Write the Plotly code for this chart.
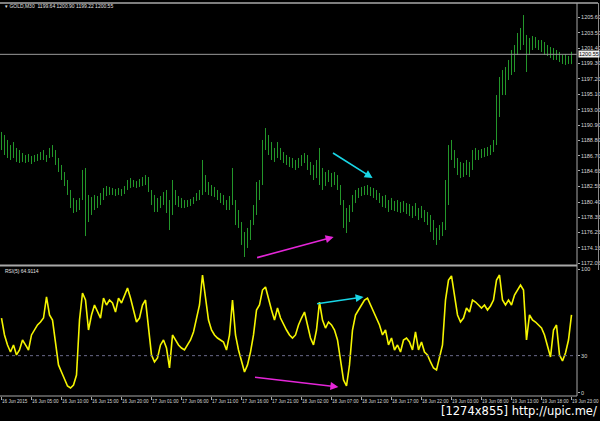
import plotly.graph_objects as go

# ---------------- data ----------------
bar_index = list(range(191))

high = [1189.96, 1189.55, 1188.87, 1188.18, 1188.59, 1187.78, 1187.50, 1187.09, 1186.82, 1186.96,
        1186.68, 1186.82, 1186.96, 1187.23, 1187.50, 1186.82, 1187.78, 1188.18, 1187.50, 1186.41,
        1185.46, 1184.50, 1183.41, 1182.05, 1180.96, 1180.68, 1180.96, 1184.78, 1185.05, 1181.37,
        1181.09, 1181.37, 1181.23, 1181.64, 1182.32, 1182.59, 1182.46, 1182.32, 1182.18, 1182.32,
        1182.18, 1182.59, 1183.41, 1183.68, 1183.41, 1183.27, 1183.55, 1183.82, 1184.09, 1183.82,
        1182.05, 1181.37, 1180.96, 1181.23, 1181.77, 1182.05, 1180.68, 1183.41, 1182.05, 1181.23,
        1180.96, 1180.68, 1180.68, 1180.82, 1181.09, 1181.64, 1182.05, 1186.14, 1184.09, 1183.14,
        1182.73, 1182.46, 1182.05, 1181.64, 1181.37, 1180.68, 1181.23, 1185.05, 1180.68, 1179.32,
        1177.68, 1176.32, 1176.87, 1177.96, 1180.00, 1183.14, 1183.41, 1188.87, 1190.50, 1189.55,
        1188.59, 1187.78, 1188.59, 1187.78, 1187.23, 1186.82, 1186.55, 1186.41, 1186.14, 1186.41,
        1186.82, 1187.09, 1186.82, 1185.87, 1185.46, 1186.14, 1187.78, 1185.05, 1184.50, 1184.78,
        1184.37, 1184.50, 1184.09, 1182.73, 1180.68, 1179.59, 1180.00, 1181.37, 1182.05, 1182.32,
        1182.46, 1182.59, 1182.73, 1182.46, 1182.32, 1182.05, 1181.64, 1181.23, 1181.37, 1180.68,
        1180.96, 1180.55, 1180.68, 1180.41, 1180.55, 1180.27, 1180.14, 1179.87, 1180.27, 1179.59,
        1179.87, 1179.32, 1179.05, 1178.64, 1177.96, 1176.87, 1177.27, 1177.68, 1183.41, 1188.18,
        1188.87, 1187.50, 1186.41, 1185.87, 1185.73, 1186.14, 1185.87, 1187.50, 1187.78, 1187.50,
        1187.64, 1187.78, 1187.91, 1188.18, 1188.87, 1195.00, 1197.46, 1198.41, 1198.82, 1199.78,
        1201.14, 1201.82, 1203.46, 1204.14, 1205.91, 1203.19, 1202.78, 1203.05, 1202.91, 1202.50,
        1202.50, 1202.23, 1201.82, 1201.55, 1201.41, 1201.14, 1200.87, 1200.46, 1200.59, 1200.32,
        1200.90]

low = [1187.50, 1186.82, 1186.41, 1186.14, 1186.41, 1185.87, 1185.73, 1185.87, 1185.73, 1185.87,
       1185.59, 1185.87, 1186.00, 1186.14, 1186.14, 1185.87, 1186.41, 1186.55, 1185.46, 1184.50,
       1183.41, 1182.59, 1181.37, 1179.59, 1178.91, 1179.05, 1179.32, 1180.68, 1175.77, 1177.68,
       1178.64, 1179.32, 1179.59, 1180.00, 1180.68, 1181.23, 1181.37, 1181.37, 1181.23, 1181.37,
       1181.23, 1181.50, 1182.05, 1182.32, 1182.46, 1182.32, 1182.46, 1182.59, 1182.73, 1181.77,
       1180.00, 1179.05, 1179.05, 1179.59, 1180.00, 1178.91, 1176.59, 1178.64, 1180.00, 1179.73,
       1179.59, 1179.59, 1179.73, 1179.87, 1180.14, 1180.55, 1180.68, 1181.37, 1181.77, 1181.37,
       1181.23, 1181.09, 1180.68, 1180.27, 1180.00, 1179.32, 1179.32, 1180.00, 1177.27, 1176.87,
       1174.55, 1172.91, 1174.14, 1175.23, 1177.27, 1178.64, 1180.68, 1182.73, 1187.50, 1186.82,
       1186.14, 1185.87, 1186.41, 1186.14, 1185.73, 1185.46, 1185.18, 1185.05, 1184.78, 1185.05,
       1185.32, 1185.73, 1184.78, 1184.09, 1183.41, 1183.68, 1182.73, 1182.05, 1182.59, 1183.14,
       1182.46, 1182.73, 1182.05, 1180.00, 1176.87, 1176.18, 1177.68, 1179.05, 1180.27, 1180.96,
       1181.23, 1181.37, 1181.37, 1181.23, 1180.96, 1180.68, 1180.27, 1179.73, 1179.59, 1179.05,
       1179.32, 1179.18, 1179.05, 1178.91, 1179.05, 1178.77, 1178.50, 1178.23, 1178.50, 1177.96,
       1178.23, 1177.68, 1177.27, 1176.32, 1175.23, 1174.55, 1175.23, 1175.77, 1176.59, 1180.00,
       1186.14, 1185.05, 1184.09, 1183.68, 1183.82, 1184.09, 1183.82, 1184.78, 1186.14, 1186.14,
       1186.41, 1186.55, 1186.68, 1186.82, 1187.23, 1188.18, 1192.00, 1195.00, 1195.00, 1197.05,
       1197.73, 1198.14, 1200.46, 1201.14, 1201.82, 1198.14, 1200.46, 1201.14, 1201.41, 1201.14,
       1200.87, 1200.46, 1200.32, 1200.05, 1199.78, 1199.78, 1199.50, 1199.23, 1199.10, 1199.23,
       1199.22]

rsi = [60.5, 46.8, 38.7, 33.0, 38.7, 30.6, 34.6, 42.7, 38.7, 34.6,
       46.8, 50.8, 54.9, 57.3, 60.5, 77.6, 63.0, 58.9, 38.7, 22.5,
       16.8, 10.3, 5.4, 3.8, 6.2, 14.3, 58.9, 80.8, 75.1, 50.8,
       63.0, 71.1, 65.4, 60.5, 76.7, 71.1, 75.1, 72.7, 65.4, 76.7,
       72.7, 79.2, 84.8, 76.7, 67.0, 57.3, 60.5, 71.1, 75.1, 50.8,
       30.6, 24.9, 28.1, 38.7, 42.7, 36.2, 20.0, 46.8, 42.7, 38.7,
       36.2, 34.6, 38.7, 42.7, 49.2, 60.5, 71.1, 95.4, 75.1, 58.9,
       50.8, 46.8, 44.3, 42.7, 41.1, 34.6, 46.8, 75.1, 46.8, 34.6,
       24.9, 16.8, 22.5, 33.0, 46.8, 67.0, 71.1, 83.2, 85.7, 75.1,
       67.0, 58.9, 68.6, 60.5, 54.9, 50.8, 46.8, 44.3, 46.8, 54.9,
       60.5, 65.4, 54.9, 44.3, 38.7, 50.8, 73.5, 58.9, 52.4, 57.3,
       54.9, 50.8, 42.7, 26.5, 10.3, 5.4, 22.5, 50.8, 63.0, 67.0,
       71.1, 75.1, 76.7, 71.1, 65.4, 60.5, 54.9, 46.8, 50.8, 38.7,
       44.3, 34.6, 38.7, 33.0, 42.7, 44.3, 41.1, 34.6, 49.2, 34.6,
       41.1, 33.0, 30.6, 24.9, 20.0, 18.4, 28.1, 38.7, 75.1, 91.3,
       94.6, 76.7, 63.0, 57.3, 60.5, 68.6, 65.4, 75.1, 73.5, 71.1,
       68.6, 71.1, 67.0, 70.3, 75.1, 91.3, 95.4, 75.1, 71.1, 75.1,
       71.1, 79.2, 83.2, 87.3, 83.2, 42.7, 63.0, 58.9, 57.3, 54.9,
       52.4, 46.8, 38.7, 28.9, 50.8, 54.9, 30.6, 25.7, 32.2, 42.7,
       63.0]

time_tick_pos = [0, 10, 20, 30, 40, 50, 60, 70, 80, 90, 100, 110, 120, 130, 140, 150, 160, 170, 180, 190]
time_tick_text = ["16 Jun 2015", "16 Jun 05:00", "16 Jun 10:00", "16 Jun 15:00", "16 Jun 20:00",
                  "17 Jun 01:00", "17 Jun 06:00", "17 Jun 11:00", "17 Jun 16:00", "17 Jun 21:00",
                  "18 Jun 02:00", "18 Jun 07:00", "18 Jun 12:00", "18 Jun 17:00", "18 Jun 22:00",
                  "19 Jun 03:00", "19 Jun 08:00", "19 Jun 13:00", "19 Jun 18:00", "19 Jun 23:00"]

price_ticks = [1205.60, 1203.50, 1201.40, 1199.30, 1197.20, 1195.10, 1193.00, 1190.90, 1188.80,
               1186.70, 1184.65, 1182.55, 1180.40, 1178.35, 1176.25, 1174.15, 1172.05]
price_tick_text = ["%.2f" % v for v in price_ticks]

rsi_ticks = [0, 30, 100]
rsi_level = 30
bid_price = 1200.55
header = "▾ GOLD,M30  1199.64 1200.90 1199.22 1200.55"
rsi_title = "RSI(5) 64.9114"

# divergence arrows: (x_tail, y_tail, x_head, y_head)
price_arrows = [(110.0, 1187.23, 123.7, 1183.68, "#19d6e6"),
                (84.7, 1172.77, 110.7, 1175.64, "#e426d8")]
rsi_arrows = [(104.7, 71.9, 120.7, 77.6, "#19d6e6"),
              (84.0, 12.7, 112.3, 4.6, "#e426d8")]

# ---------------- figure ----------------
W, H = 600, 421
ML, MR, MT, MB = 0, 23, 3, 25
PW, PH = W - ML - MR, H - MT - MB

def py(pix):  # paper y from pixel row
    return (H - MB - pix) / PH

def px(pix):  # paper x from pixel column
    return (pix - ML) / PW

seg_x, seg_y = [], []
for i, h, l in zip(bar_index, high, low):
    seg_x += [i, i, None]
    seg_y += [l, h, None]

fig = go.Figure()
fig.add_trace(go.Scatter(x=seg_x, y=seg_y, mode="lines",
                         line=dict(color="#23962a", width=1),
                         xaxis="x", yaxis="y", hoverinfo="skip", showlegend=False))
fig.add_trace(go.Scatter(x=bar_index, y=rsi, mode="lines",
                         line=dict(color="#f5f500", width=1.6),
                         xaxis="x2", yaxis="y2", hoverinfo="skip", showlegend=False))

xr = [-0.5, PW / 3 - 0.5]
tickfont = dict(family="Liberation Sans", size=5.5, color="#d8d8d8")

fig.update_layout(
    width=W, height=H,
    margin=dict(l=ML, r=MR, t=MT, b=MB),
    paper_bgcolor="black", plot_bgcolor="black",
    showlegend=False,
    xaxis=dict(domain=[0, 1], range=xr, anchor="y", showticklabels=False, showgrid=False,
               zeroline=False, showline=False, ticks=""),
    xaxis2=dict(domain=[0, 1], range=xr, anchor="y2", showgrid=False, zeroline=False,
                showline=False, tickmode="array", tickvals=time_tick_pos, ticktext=time_tick_text,
                ticks="outside", ticklen=3, tickcolor="#aaaaaa", tickwidth=1,
                ticklabelposition="outside right",
                tickfont=dict(family="Liberation Sans", size=4.6, color="#d8d8d8"),
                automargin=False, tickangle=0),
    yaxis=dict(domain=[py(265), 1], range=[1171.82, 1207.55], side="right", anchor="x",
               showgrid=False, zeroline=False, showline=False,
               tickmode="array", tickvals=price_ticks, ticktext=price_tick_text,
               ticks="outside", ticklen=2, tickcolor="#aaaaaa", tickfont=tickfont,
               automargin=False),
    yaxis2=dict(domain=[0, py(266)], range=[-2.7, 102.7], side="right", anchor="x2",
                showgrid=False, zeroline=False, showline=False,
                tickmode="array", tickvals=rsi_ticks, ticktext=[str(v) for v in rsi_ticks],
                ticks="outside", ticklen=2, tickcolor="#aaaaaa", tickfont=tickfont,
                automargin=False),
)

line_col = "#a8a8a8"
shapes = [
    dict(type="line", xref="paper", yref="paper", x0=0, x1=px(598), y0=1, y1=1,
         line=dict(color=line_col, width=1.5)),
    dict(type="line", xref="paper", yref="paper", x0=0, x1=1, y0=py(265.5), y1=py(265.5),
         line=dict(color=line_col, width=2)),
    dict(type="line", xref="paper", yref="paper", x0=0, x1=1, y0=0, y1=0,
         line=dict(color=line_col, width=1)),
    dict(type="line", xref="paper", yref="paper", x0=1, x1=1, y0=0, y1=1,
         line=dict(color=line_col, width=1)),
    dict(type="line", xref="paper", yref="paper", x0=px(598.5), x1=px(598.5), y0=py(270), y1=1,
         line=dict(color="#8a8a8a", width=1)),
    dict(type="line", xref="x domain", yref="y", x0=0, x1=1, y0=bid_price, y1=bid_price,
         line=dict(color="#9a9a9a", width=1)),
    dict(type="line", xref="x2 domain", yref="y2", x0=0, x1=1, y0=rsi_level, y1=rsi_level,
         line=dict(color="#6a6a8a", width=1, dash="dot")),
]
fig.update_layout(shapes=shapes)

ann = []
for (xt, yt, xh, yh, c) in price_arrows:
    ann.append(dict(x=xh, y=yh, ax=xt, ay=yt, xref="x", yref="y", axref="x", ayref="y",
                    showarrow=True, arrowhead=2, arrowsize=1, arrowwidth=1.6, arrowcolor=c, text=""))
for (xt, yt, xh, yh, c) in rsi_arrows:
    ann.append(dict(x=xh, y=yh, ax=xt, ay=yt, xref="x2", yref="y2", axref="x2", ayref="y2",
                    showarrow=True, arrowhead=2, arrowsize=1, arrowwidth=1.6, arrowcolor=c, text=""))

ann.append(dict(x=px(3), y=py(6.5), xref="paper", yref="paper", xanchor="left", yanchor="middle",
                text=header, showarrow=False,
                font=dict(family="Liberation Sans", size=5, color="#e0e0e0")))
ann.append(dict(x=px(3), y=py(270.5), xref="paper", yref="paper", xanchor="left", yanchor="middle",
                text=rsi_title, showarrow=False,
                font=dict(family="Liberation Sans", size=5, color="#e0e0e0")))
ann.append(dict(x=1, y=bid_price, xref="x domain", yref="y", xanchor="left", yanchor="middle",
                text=("%.2f" % bid_price), showarrow=False, bgcolor="#f0f0f0", borderpad=0,
                xshift=1, font=dict(family="Liberation Sans", size=5.5, color="black")))
ann.append(dict(x=px(599), y=py(411), xref="paper", yref="paper", xanchor="right", yanchor="middle",
                text="[1274x855] http://upic.me/", showarrow=False,
                font=dict(family="DejaVu Sans", size=11.5, color="white")))
fig.update_layout(annotations=ann)

fig.write_html("out.html", config={"displayModeBar": False},
               post_script="document.body.style.margin='0';")
